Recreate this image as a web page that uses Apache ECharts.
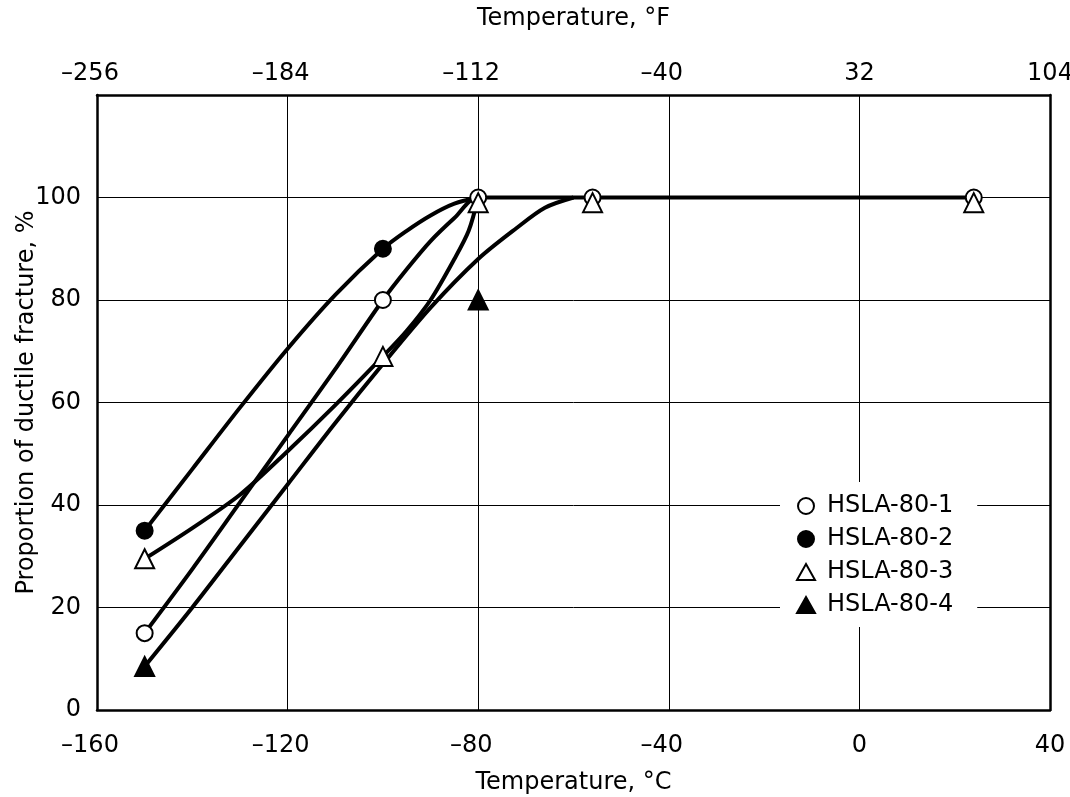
<!DOCTYPE html>
<html><head><meta charset="utf-8">
<script src="https://cdn.jsdelivr.net/npm/echarts@6/dist/echarts.min.js"></script>
<style>html,body{margin:0;padding:0;background:#fff}#c{width:1070px;height:797px}</style>
</head><body><div id="c"></div>
<script>
// Measured points (temperature °C, proportion %)
const s1T = [-150, -100, -80, -56, 24];
const s1V = [15, 80, 100, 100, 100];
const s2T = [-150, -100];
const s2V = [35, 90];
const s3T = [-150, -100, -80, -56, 24];
const s3V = [29.5, 69, 99, 99, 99];
const s4T = [-150, -80];
const s4V = [8.5, 80];
// Fitted curves
const f1T = [-150, -140, -130, -120, -110, -100, -95, -90, -85, -80, 24];
const f1V = [15, 27.5, 40.5, 53.5, 66.5, 80, 86, 91.5, 96, 100, 100];
const f2T = [-150, -140, -130, -120, -110, -100, -95, -90, -85, -80];
const f2V = [35, 47, 59, 70.5, 81, 90, 93.5, 96.5, 98.8, 100];
const f3T = [-150, -140, -130, -120, -110, -100, -95, -90, -85, -82, -80];
const f3V = [29.5, 35.5, 42, 50.5, 59.5, 69, 74, 80, 88, 93.5, 100];
const f4T = [-150, -140, -130, -120, -110, -100, -90, -80, -72, -66, -60];
const f4V = [8.5, 20, 32, 44, 56, 67.5, 78.5, 88, 94, 98, 100];
const names = ['HSLA-80-1', 'HSLA-80-2', 'HSLA-80-3', 'HSLA-80-4'];

const zip = (a, b) => a.map((v, i) => [v, b[i]]);
const dash = v => (v < 0 ? '{n|\u2013' + Math.abs(v) + '}' : String(v));
const font = 'DejaVu Sans, Liberation Sans, sans-serif';
const FS = 24;

const chart = echarts.init(document.getElementById('c'));
const lineS = (d) => ({
  type: 'line', data: d, showSymbol: false, smooth: 0.3,
  lineStyle: { color: '#000', width: 4 }, silent: true, z: 3
});
const pt = (name, d, symbol, filled, size) => ({
  type: 'scatter', name, data: d, symbol, symbolSize: size, z: 5,
  itemStyle: { color: filled ? '#000' : '#fff', borderColor: '#000', borderWidth: 2, opacity: 1 }
});
const txt = { fontFamily: font, fontSize: FS, color: '#000' };
const rich = { n: { fontFamily: font, fontSize: FS, color: '#000', padding: [0, 14, 0, 0] } };
chart.setOption({
  animation: false,
  backgroundColor: '#fff',
  grid: { left: 97, right: 20, top: 95, bottom: 87, outerBoundsMode: 'none', containLabel: false },
  legend: {
    data: names, orient: 'vertical', left: 780, top: 482,
    backgroundColor: '#fff', padding: [12, 24, 10, 16], itemGap: 9,
    itemWidth: 18, itemHeight: 16, symbolKeepAspect: true,
    textStyle: Object.assign({ padding: [0, 0, 0, 7] }, txt)
  },
  xAxis: [{
    type: 'value', min: -160, max: 40, interval: 40, position: 'bottom',
    name: 'Temperature, \u00B0C', nameLocation: 'middle', nameGap: 61, nameMoveOverlap: false,
    nameTextStyle: txt,
    axisLine: { onZero: false, lineStyle: { color: '#000', width: 2.5 } },
    axisTick: { show: false },
    axisLabel: Object.assign({ margin: 24, formatter: dash, rich }, txt),
    splitLine: { lineStyle: { color: '#000', width: 1 } }
  }, {
    type: 'value', min: -160, max: 40, interval: 40, position: 'top',
    name: 'Temperature, \u00B0F', nameLocation: 'middle', nameGap: 64, nameMoveOverlap: false,
    nameTextStyle: txt,
    axisLine: { show: true, onZero: false, lineStyle: { color: '#000', width: 2.5 } },
    axisTick: { show: false },
    axisLabel: Object.assign({ margin: 9, rich, formatter: v => dash(Math.round(v * 9 / 5 + 32)) }, txt),
    splitLine: { show: false }
  }],
  yAxis: [{
    type: 'value', min: 0, max: 120, interval: 20,
    name: 'Proportion of ductile fracture, %', nameLocation: 'middle', nameGap: 58, nameMoveOverlap: false,
    nameTextStyle: txt,
    axisLine: { show: true, onZero: false, lineStyle: { color: '#000', width: 2.5 } },
    axisTick: { show: false },
    axisLabel: Object.assign({ margin: 16, formatter: v => (v >= 120 ? '' : String(v)) }, txt),
    splitLine: { lineStyle: { color: '#000', width: 1 } }
  }, {
    type: 'value', min: 0, max: 120, interval: 20, position: 'right',
    axisLine: { show: true, onZero: false, lineStyle: { color: '#000', width: 2.5 } },
    axisTick: { show: false }, axisLabel: { show: false }, splitLine: { show: false }
  }],
  series: [
    lineS(zip(f1T, f1V)), lineS(zip(f2T, f2V)), lineS(zip(f3T, f3V)), lineS(zip(f4T, f4V)),
    pt(names[0], zip(s1T, s1V), 'circle', false, 16),
    pt(names[1], zip(s2T, s2V), 'circle', true, 16),
    pt(names[2], zip(s3T, s3V), 'triangle', false, 19),
    pt(names[3], zip(s4T, s4V), 'triangle', true, 19)
  ]
});
</script></body></html>
